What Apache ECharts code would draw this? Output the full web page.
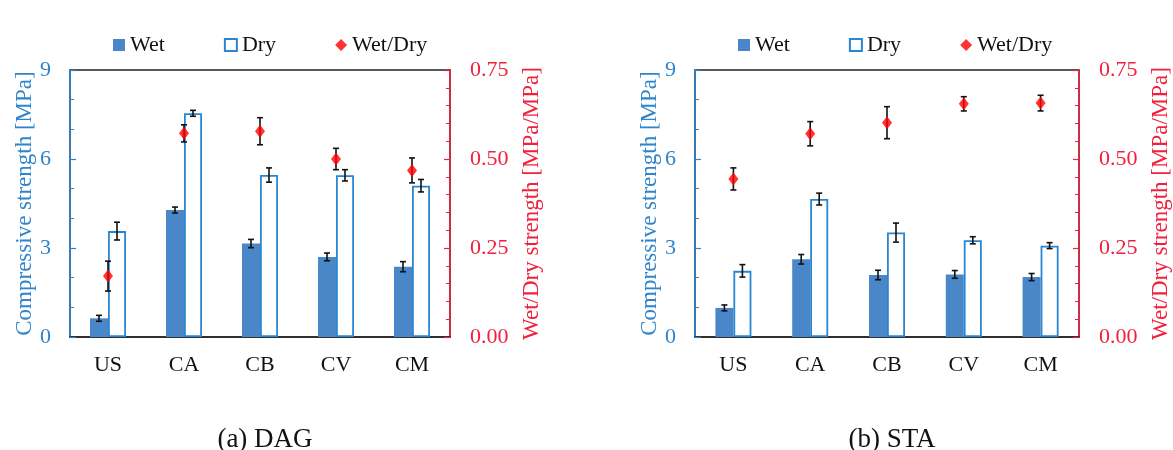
<!DOCTYPE html>
<html><head><meta charset="utf-8">
<script src="https://cdn.jsdelivr.net/npm/echarts@6/dist/echarts.min.js"></script>
<style>html,body{margin:0;padding:0;background:#fff}#c{width:1173px;height:450px}</style>
</head><body><div id="c"></div>
<script>
const categories = ['US', 'CA', 'CB', 'CV', 'CM'];
// (a) DAG
const dagWet = [0.63, 4.28, 3.15, 2.70, 2.37];
const dagWetErr = [0.10, 0.10, 0.14, 0.13, 0.17];
const dagDry = [3.57, 7.54, 5.46, 5.45, 5.10];
const dagDryErr = [0.30, 0.10, 0.24, 0.19, 0.21];
const dagRatio = [0.171, 0.572, 0.578, 0.500, 0.468];
const dagRatioErr = [0.042, 0.024, 0.038, 0.030, 0.035];
// (b) STA
const staWet = [0.98, 2.62, 2.09, 2.11, 2.02];
const staWetErr = [0.10, 0.16, 0.16, 0.13, 0.12];
const staDry = [2.23, 4.65, 3.52, 3.26, 3.08];
const staDryErr = [0.21, 0.20, 0.32, 0.12, 0.10];
const staRatio = [0.444, 0.571, 0.602, 0.655, 0.657];
const staRatioErr = [0.031, 0.034, 0.045, 0.020, 0.022];
const leftTicks = [0, 3, 6, 9];
const rightTicks = [0, 0.25, 0.5, 0.75];
const captions = ['(a) DAG', '(b) STA'];

const FONT = 'Liberation Serif';
const BLUE = '#2f84cc';
const BAR_BLUE = '#4a87c9';
const RED = '#f2203c';
const BAR_W = 18;

function errSeries(name, vals, errs, xAxisIndex, yAxisIndex, shift) {
  return {
    type: 'custom', name: name, xAxisIndex: xAxisIndex, yAxisIndex: yAxisIndex,
    z: 10, silent: true,
    data: vals.map((v, i) => [i, v, errs[i]]),
    encode: { x: 0, y: 1 },
    renderItem: function (params, api) {
      const i = api.value(0), v = api.value(1), e = api.value(2);
      const hi = api.coord([i, v + e]);
      const lo = api.coord([i, v - e]);
      const x = hi[0] + shift;
      const cap = 3;
      const st = { stroke: '#111', lineWidth: 1.6 };
      return { type: 'group', children: [
        { type: 'line', shape: { x1: x, y1: hi[1], x2: x, y2: lo[1] }, style: st },
        { type: 'line', shape: { x1: x - cap, y1: hi[1], x2: x + cap, y2: hi[1] }, style: st },
        { type: 'line', shape: { x1: x - cap, y1: lo[1], x2: x + cap, y2: lo[1] }, style: st }
      ]};
    }
  };
}

const grids = [
  { left: 70, right: 723, top: 70, bottom: 113 },
  { left: 695, right: 93, top: 70, bottom: 113 }
];

const option = {
  backgroundColor: '#fff',
  animation: false,
  textStyle: { fontFamily: FONT },
  title: captions.map((t, k) => ({
    text: t, left: k === 0 ? 260 : 887, top: 421, textAlign: 'center',
    textStyle: { fontFamily: FONT, fontSize: 27, fontWeight: 'normal', color: '#111', lineHeight: 28 }
  })),
  legend: [108, 733].map(l => ({
    left: l, top: 29, itemGap: 59, itemWidth: 12, itemHeight: 12,
    textStyle: { fontFamily: FONT, fontSize: 22, color: '#111' },
    data: [
      { name: 'Wet', icon: 'rect' },
      { name: 'Dry', icon: 'rect' },
      { name: 'Wet/Dry', icon: 'diamond' }
    ]
  })),
  grid: grids.map(g => Object.assign({ show: true, borderColor: '#222', borderWidth: 1.5, backgroundColor: 'transparent' }, g)),
  xAxis: [0, 1].map(k => ({
    type: 'category', gridIndex: k, data: categories,
    axisLine: { lineStyle: { color: '#222', width: 1.5 } },
    axisTick: { show: false },
    axisLabel: { fontFamily: FONT, fontSize: 22, color: '#111', margin: 17 }
  })),
  yAxis: [
    ...[0, 1].map(k => ({
      type: 'value', gridIndex: k, min: 0, max: 9, interval: 3, position: 'left',
      name: 'Compressive strength [MPa]', nameLocation: 'middle', nameGap: 30, nameRotate: 90,
      nameTextStyle: { fontFamily: FONT, fontSize: 23, color: BLUE },
      axisLine: { show: true, lineStyle: { color: BLUE, width: 1.5 } },
      axisTick: { show: true, inside: true, length: 6, lineStyle: { color: BLUE, width: 1.2 } },
      minorTick: { show: true, splitNumber: 3, length: 4, lineStyle: { color: BLUE, width: 1 } },
      axisLabel: { fontFamily: FONT, fontSize: 22, color: BLUE, margin: 19,
        formatter: v => leftTicks.includes(v) ? String(v) : '' },
      splitLine: { show: false }
    })),
    ...[0, 1].map(k => ({
      type: 'value', gridIndex: k, min: 0, max: 0.75, interval: 0.25, position: 'right',
      name: 'Wet/Dry strength [MPa/MPa]', nameLocation: 'middle', nameGap: 70, nameRotate: 90,
      nameTextStyle: { fontFamily: FONT, fontSize: 23, color: RED },
      axisLine: { show: true, lineStyle: { color: RED, width: 1.5 } },
      axisTick: { show: true, inside: true, length: 6, lineStyle: { color: RED, width: 1.2 } },
      minorTick: { show: true, splitNumber: 5, length: 4, lineStyle: { color: RED, width: 1 } },
      axisLabel: { fontFamily: FONT, fontSize: 22, color: RED, margin: 20,
        formatter: v => rightTicks.some(t => Math.abs(t - v) < 1e-9) ? v.toFixed(2) : '' },
      splitLine: { show: false }
    }))
  ],
  series: []
};

const sets = [
  { wet: dagWet, wetErr: dagWetErr, dry: dagDry, dryErr: dagDryErr, ratio: dagRatio, ratioErr: dagRatioErr },
  { wet: staWet, wetErr: staWetErr, dry: staDry, dryErr: staDryErr, ratio: staRatio, ratioErr: staRatioErr }
];
sets.forEach((s, k) => {
  option.series.push(
    { name: 'Wet', type: 'bar', xAxisIndex: k, yAxisIndex: k, data: s.wet, barWidth: BAR_W, barGap: '0%',
      itemStyle: { color: BAR_BLUE, borderColor: BAR_BLUE, borderWidth: 0 } },
    { name: 'Dry', type: 'bar', xAxisIndex: k, yAxisIndex: k, data: s.dry, barWidth: BAR_W, barGap: '0%',
      itemStyle: { color: '#ffffff', borderColor: '#2a86d1', borderWidth: 1.8 } },
    errSeries('wetErr', s.wet, s.wetErr, k, k, -BAR_W / 2),
    errSeries('dryErr', s.dry, s.dryErr, k, k, BAR_W / 2),
    errSeries('ratioErr', s.ratio, s.ratioErr, k, k + 2, 0),
    { name: 'Wet/Dry', type: 'scatter', xAxisIndex: k, yAxisIndex: k + 2, data: s.ratio,
      symbol: 'diamond', symbolSize: [10, 13], z: 11, itemStyle: { color: '#ff0000' } }
  );
});

const chart = echarts.init(document.getElementById('c'), null, { renderer: 'canvas' });
chart.setOption(option);
</script></body></html>
